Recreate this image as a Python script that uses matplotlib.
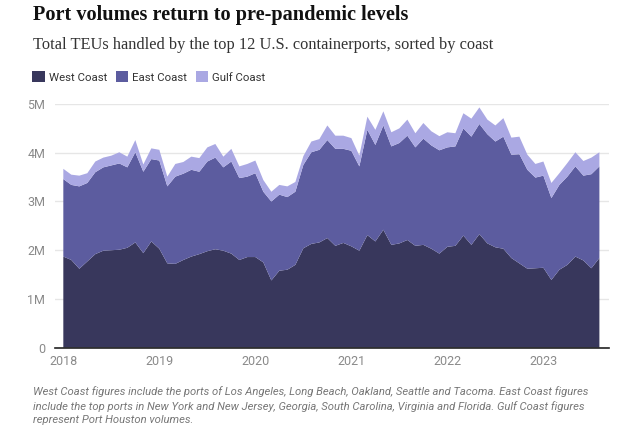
import numpy as np
import matplotlib.pyplot as plt
from matplotlib.patches import Patch

# monthly TEUs (millions), Jan 2018 - Aug 2023
west = [1.87, 1.80, 1.62, 1.77, 1.92, 1.99, 2.00, 2.01, 2.05, 2.16, 1.94, 2.18,
        2.03, 1.73, 1.72, 1.80, 1.87, 1.92, 1.98, 2.02, 1.99, 1.93, 1.80, 1.86,
        1.86, 1.75, 1.38, 1.58, 1.60, 1.70, 2.04, 2.13, 2.16, 2.25, 2.09, 2.15,
        2.08, 1.99, 2.31, 2.18, 2.42, 2.11, 2.14, 2.21, 2.09, 2.11, 2.03, 1.93,
        2.07, 2.09, 2.30, 2.11, 2.33, 2.14, 2.06, 2.03, 1.84, 1.73, 1.62, 1.63,
        1.64, 1.39, 1.60, 1.70, 1.87, 1.79, 1.63, 1.84]
east = [1.59, 1.54, 1.69, 1.61, 1.68, 1.71, 1.74, 1.77, 1.65, 1.85, 1.67, 1.69,
        1.81, 1.58, 1.79, 1.77, 1.78, 1.69, 1.84, 1.88, 1.71, 1.89, 1.68, 1.65,
        1.72, 1.45, 1.62, 1.56, 1.49, 1.50, 1.71, 1.88, 1.90, 2.01, 1.99, 1.93,
        1.96, 1.73, 2.16, 1.98, 2.14, 2.02, 2.06, 2.14, 2.02, 2.18, 2.12, 2.12,
        2.04, 2.04, 2.20, 2.22, 2.26, 2.24, 2.17, 2.30, 2.12, 2.24, 2.03, 1.86,
        1.89, 1.68, 1.74, 1.81, 1.85, 1.74, 1.93, 1.88]
gulf = [0.21, 0.21, 0.22, 0.20, 0.22, 0.20, 0.20, 0.23, 0.22, 0.25, 0.15, 0.22,
        0.22, 0.20, 0.26, 0.24, 0.27, 0.28, 0.29, 0.28, 0.22, 0.26, 0.24, 0.26,
        0.26, 0.24, 0.20, 0.20, 0.22, 0.20, 0.18, 0.22, 0.22, 0.30, 0.27, 0.27,
        0.26, 0.22, 0.27, 0.31, 0.29, 0.29, 0.30, 0.33, 0.29, 0.32, 0.29, 0.29,
        0.31, 0.27, 0.31, 0.37, 0.34, 0.30, 0.33, 0.38, 0.35, 0.36, 0.31, 0.28,
        0.29, 0.31, 0.24, 0.28, 0.29, 0.30, 0.34, 0.29]

years = ["2018", "2019", "2020", "2021", "2022", "2023"]
y_ticks = [0, 1, 2, 3, 4, 5]
y_labels = ["0", "1M", "2M", "3M", "4M", "5M"]

labels = ["West Coast", "East Coast", "Gulf Coast"]
colors = ["#38375c", "#5c5c9f", "#aaa8e3"]


def main():
    months = np.arange(len(west))

    fig = plt.figure(figsize=(6.4, 4.29), dpi=100)
    W, H = 640, 429
    # axes box in pixels: left 55, right 609, top 104, bottom 347.7
    ax = fig.add_axes([55 / W, 1 - 347.7 / H, (609 - 55) / W, (347.7 - 104) / H])

    ax.stackplot(months, west, east, gulf, colors=colors, linewidth=0)

    ax.set_xlim(-1.04, 68.2)
    ax.set_ylim(0, 5)

    ax.set_yticks(y_ticks)
    ax.set_yticklabels(y_labels)
    ax.set_xticks(np.arange(len(years)) * 12)
    ax.set_xticklabels(years)
    ax.tick_params(axis="y", length=0, pad=7, labelsize=9, labelcolor="#8a8a8a")
    ax.tick_params(axis="x", length=0, pad=5, labelsize=9, labelcolor="#8a8a8a")
    for t in ax.get_xticklabels() + ax.get_yticklabels():
        t.set_family("Roboto")

    ax.grid(axis="y", color="#e6e6e6", linewidth=1)
    ax.set_axisbelow(True)
    for s in ["top", "right", "left"]:
        ax.spines[s].set_visible(False)
    ax.spines["bottom"].set_color("#222222")
    ax.spines["bottom"].set_linewidth(1.2)
    ax.spines["bottom"].set_zorder(5)

    # titles
    fig.text(33 / W, 1 - 15 / H, "Port volumes return to pre-pandemic levels",
             family="Liberation Serif", weight="bold", fontsize=14.6, color="#111111", va="center")
    fig.text(33 / W, 1 - 45 / H, "Total TEUs handled by the top 12 U.S. containerports, sorted by coast",
             family="Liberation Serif", fontsize=11.8, color="#333333", va="center")

    handles = [Patch(facecolor=c, edgecolor="none") for c in colors]
    fig.legend(handles, labels, loc="center left", bbox_to_anchor=(22 / W, 1 - 77 / H),
               ncol=3, frameon=False, handlelength=1.1, handleheight=1.1,
               handletextpad=0.35, columnspacing=0.75, prop={"family": "Roboto", "size": 8.2},
               labelcolor="#333333")

    note = ("West Coast figures include the ports of Los Angeles, Long Beach, Oakland, Seattle and Tacoma. East Coast figures\n"
            "include the top ports in New York and New Jersey, Georgia, South Carolina, Virginia and Florida. Gulf Coast figures\n"
            "represent Port Houston volumes.")
    fig.text(33 / W, 1 - 386 / H, note, family="Roboto", style="italic", fontsize=8.1,
             color="#777777", va="top", linespacing=1.45)

    fig.savefig("out.png", dpi=100)


if __name__ == "__main__":
    main()
